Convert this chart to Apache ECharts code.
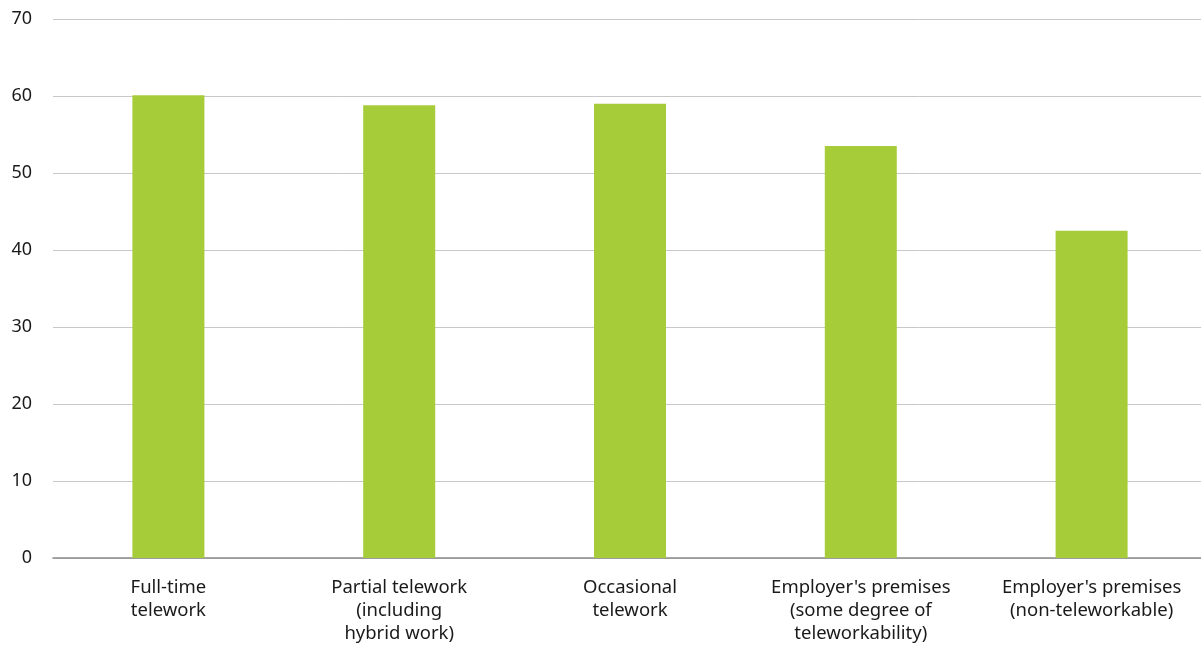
<!DOCTYPE html>
<html>
<head>
<meta charset="utf-8">
<script src="https://cdn.jsdelivr.net/npm/echarts@6/dist/echarts.min.js"></script>
<style>
html,body{margin:0;padding:0;background:#fff;overflow:hidden;width:1201px;height:651px;}
#chart{width:1207px;height:651px;}
</style>
</head>
<body>
<div id="chart"></div>
<script>
const categories = [
  "Full-time\ntelework",
  "Partial telework\n(including\nhybrid work)",
  "Occasional\ntelework",
  "Employer's premises\n(some degree of\nteleworkability)",
  "Employer's premises\n(non-teleworkable)"
];
const values = [60.1, 58.8, 59.0, 53.5, 42.5];
const yTicks = { min: 0, max: 70, interval: 10 };

const chart = echarts.init(document.getElementById('chart'), null, { renderer: 'canvas' });
chart.setOption({
  animation: false,
  backgroundColor: '#ffffff',
  textStyle: { fontFamily: 'Noto Sans', color: '#1a1a1a' },
  grid: { left: 53, right: 0, top: 19, bottom: 93, containLabel: false },
  xAxis: {
    type: 'category',
    data: categories,
    axisLine: { show: true, lineStyle: { color: '#8c8c8c', width: 1.5 } },
    axisTick: { show: false },
    axisLabel: {
      interval: 0, margin: 18, fontSize: 18.5, lineHeight: 23,
      color: '#1a1a1a', fontFamily: 'Noto Sans', align: 'center', verticalAlign: 'top'
    }
  },
  yAxis: {
    type: 'value',
    min: yTicks.min, max: yTicks.max, interval: yTicks.interval,
    axisLine: { show: false },
    axisTick: { show: false },
    splitLine: { lineStyle: { color: '#c8c8c8', width: 1 } },
    axisLabel: { fontSize: 18, color: '#1a1a1a', margin: 21, fontFamily: 'Noto Sans' }
  },
  series: [{
    type: 'bar',
    data: values,
    barWidth: 72,
    itemStyle: { color: '#a6cc3a' }
  }]
});
</script>
</body>
</html>
